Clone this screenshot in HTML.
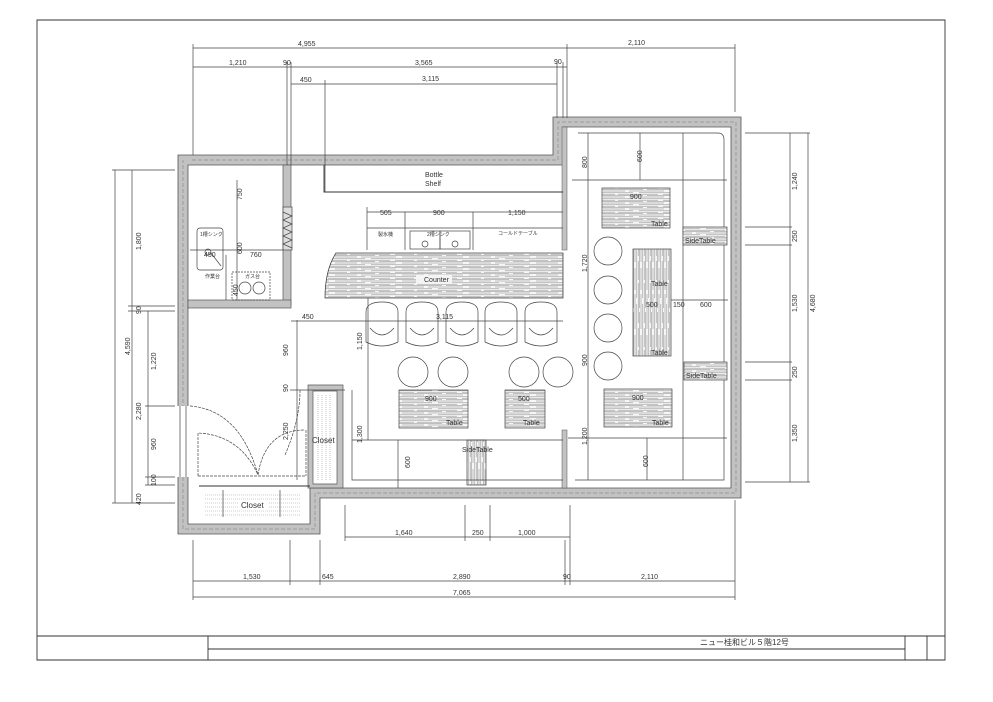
<!DOCTYPE html>
<html><head><meta charset="utf-8"><style>
html,body{margin:0;padding:0;background:#fff}
svg{display:block}
text{font-family:"Liberation Sans","Noto Sans CJK JP",sans-serif;fill:#333}
.d{font-size:7px}
.l{stroke:#444;stroke-width:0.7;fill:none}
.t{stroke:#333;stroke-width:0.9;fill:none}
</style></head><body>
<svg width="993" height="702" viewBox="0 0 993 702" xmlns="http://www.w3.org/2000/svg">
<defs>
<pattern id="wood" width="67" height="6" patternUnits="userSpaceOnUse">
<rect width="67" height="6" fill="#f6f6f6"/>
<path d="M0 0.8 H30 M36 0.8 H67 M0 2.2 H12 M15 2.2 H55 M60 2.2 H67 M0 3.6 H40 M44 3.6 H67 M0 5 H22 M26 5 H61" stroke="#888" stroke-width="0.5"/>
</pattern>
<pattern id="woodv" width="6" height="67" patternUnits="userSpaceOnUse">
<rect width="6" height="67" fill="#f6f6f6"/>
<path d="M0.8 0 V30 M0.8 36 V67 M2.2 0 V12 M2.2 15 V55 M2.2 60 V67 M3.6 0 V40 M3.6 44 V67 M5 0 V22 M5 26 V61" stroke="#888" stroke-width="0.5"/>
</pattern>
</defs>
<!-- frame -->
<path d="M37 20 H945 V660 H37 Z" class="t"/>
<path d="M37 636 H945 M208 636 V660 M208 649 H905 M905 636 V660 M927 636 V660" class="t"/>
<text x="700" y="645" font-size="8">ニュー桂和ビル５階12号</text>

<!-- walls -->
<path fill-rule="evenodd" fill="#c2c2c2" stroke="#555" stroke-width="0.8"
 d="M178 155 H553 V117 H741 V498 H320 V534 H178 Z
    M188 165 H563 V127 H731 V488 H310 V524 H188 Z"/>
<path d="M192 160 H558 V122 H736 V493 H315 V529 H183 V160" fill="none" stroke="#777" stroke-width="0.5" stroke-dasharray="4 2"/>
<rect x="176" y="406" width="14" height="71" fill="#fff"/>
<path d="M180 406 V477 M186 406 V477" class="l"/>
<!-- kitchen partition -->
<rect x="283" y="165" width="8" height="140" fill="#c2c2c2" stroke="#555" stroke-width="0.7"/>
<rect x="188" y="300" width="103" height="8" fill="#c2c2c2" stroke="#555" stroke-width="0.7"/>
<rect x="283" y="207" width="9" height="43" fill="#ddd" stroke="#444" stroke-width="0.7"/>
<path d="M283 212 l9 4 l-9 4 l9 4 l-9 4 l9 4 l-9 4 l9 4 l-9 4 l9 4" class="l"/>
<!-- right room partition stubs -->
<rect x="562" y="127" width="5" height="123" fill="#c2c2c2" stroke="#555" stroke-width="0.5"/>
<rect x="562" y="430" width="5" height="58" fill="#c2c2c2" stroke="#555" stroke-width="0.5"/>
<!-- closet right -->
<path fill-rule="evenodd" fill="#c2c2c2" stroke="#555" stroke-width="0.7" d="M308 385 H343 V488 H308 Z M313 391 H337 V484 H313 Z"/>
<path d="M318 395 V480 M322 395 V480 M326 395 V480 M330 395 V480" stroke="#888" stroke-width="0.5" stroke-dasharray="1 1"/>
<text x="312" y="443" font-size="8">Closet</text>
<!-- bottom closet -->
<path d="M199 486 H310" class="t"/>
<path d="M205 495 H300 M205 499 H300 M205 503 H300 M205 507 H300 M205 511 H300 M205 515 H300" stroke="#999" stroke-width="0.5" stroke-dasharray="1 1"/>
<path d="M223 490 V517 M280 490 V517" class="l"/>
<rect x="238" y="500" width="30" height="10" fill="#fff"/>
<text x="241" y="508" font-size="8">Closet</text>
<!-- doors -->
<path d="M190 406 Q240 410 258 475 M198 476 V433 Q240 435 258 475 M258 475 Q265 430 305 430 M300 390 Q300 420 285 455 M306 430 V476 M198 476 H306" class="l" stroke-dasharray="3 1"/>
<path d="M290 390 H345" class="l"/>

<!-- kitchen -->
<rect x="197" y="228" width="26" height="42" rx="3" class="l"/>
<circle cx="208" cy="252" r="3" class="l"/>
<path d="M211 253 L221 266" class="l"/>
<text x="200" y="236" font-size="5">1槽シンク</text>
<text x="204" y="257" class="d" font-size="6">450</text>
<path d="M190 250 H283 M237 180 V300 M226 255 V300" class="l"/>
<text x="205" y="278" font-size="5">作業台</text>
<rect x="232" y="272" width="38" height="28" class="l" stroke-dasharray="2 1"/>
<circle cx="245" cy="288" r="6" class="l"/><circle cx="259" cy="288" r="6" class="l"/>
<text x="245" y="278" font-size="5">ガス台</text>
<text x="250" y="257" class="d">760</text>
<text transform="translate(242 200) rotate(-90)" class="d">750</text>
<text transform="translate(242 254) rotate(-90)" class="d">600</text>
<text transform="translate(238 296) rotate(-90)" class="d">450</text>

<!-- bottle shelf -->
<path d="M324 165 V192 H563" class="t"/>
<text x="425" y="177" font-size="7">Bottle</text>
<text x="425" y="186" font-size="7">Shelf</text>
<!-- equipment -->
<path d="M367 228 H563 M367 207 V250 M405 212 V250 M473 212 V250 M367 212 H563" class="l"/>
<rect x="410" y="231" width="30" height="18" class="l"/><rect x="440" y="231" width="30" height="18" class="l"/>
<circle cx="425" cy="244" r="3" class="l"/><circle cx="455" cy="244" r="3" class="l"/>
<text x="378" y="236" font-size="5">製氷機</text>
<text x="427" y="236" font-size="5">2槽シンク</text>
<text x="498" y="235" font-size="5">コールドテーブル</text>
<text x="380" y="215" class="d">505</text><text x="433" y="215" class="d">900</text><text x="508" y="215" class="d">1,150</text>
<!-- counter -->
<path d="M336 253 H563 V298 H325 Q325 270 336 253 Z" fill="url(#wood)" stroke="#444" stroke-width="0.8"/>
<rect x="416" y="275" width="36" height="9" fill="#f4f4f4"/>
<text x="424" y="282" font-size="7">Counter</text>
<!-- stools -->
<g class="l">
<path d="M366 342 V312 Q366 302 382 302 Q398 302 398 312 V342 Q382 350 366 342 Z M370 328 Q382 342 394 328"/>
<path d="M406 342 V312 Q406 302 422 302 Q438 302 438 312 V342 Q422 350 406 342 Z M410 328 Q422 342 434 328"/>
<path d="M446 342 V312 Q446 302 462 302 Q478 302 478 312 V342 Q462 350 446 342 Z M450 328 Q462 342 474 328"/>
<path d="M485 342 V312 Q485 302 501 302 Q517 302 517 312 V342 Q501 350 485 342 Z M489 328 Q501 342 513 328"/>
<path d="M525 342 V312 Q525 302 541 302 Q557 302 557 312 V342 Q541 350 525 342 Z M529 328 Q541 342 553 328"/>
</g>
<path d="M291 321 H563" class="l"/>
<text x="302" y="319" class="d">450</text><text x="436" y="319" class="d">3,115</text>
<!-- round stools -->
<g class="l"><circle cx="413" cy="372" r="15"/><circle cx="453" cy="372" r="15"/><circle cx="524" cy="372" r="15"/><circle cx="558" cy="372" r="15"/>
<circle cx="608" cy="251" r="14"/><circle cx="608" cy="290" r="14"/><circle cx="608" cy="328" r="14"/><circle cx="608" cy="366" r="14"/></g>
<!-- tables -->
<rect x="399" y="390" width="69" height="38" fill="url(#wood)" stroke="#444" stroke-width="0.7"/>
<text x="425" y="401" class="d">900</text><text x="446" y="425" font-size="7">Table</text>
<rect x="505" y="390" width="40" height="38" fill="url(#wood)" stroke="#444" stroke-width="0.7"/>
<text x="518" y="401" class="d">500</text><text x="523" y="425" font-size="7">Table</text>
<rect x="467" y="440" width="19" height="45" fill="url(#woodv)" stroke="#444" stroke-width="0.7"/>
<text x="462" y="452" font-size="7">SideTable</text>
<path d="M352 390 V480 H563 M352 440 H563 M398 440 V488" class="l"/>
<text transform="translate(362 443) rotate(-90)" class="d">1,300</text>
<text transform="translate(410 468) rotate(-90)" class="d">600</text>
<text transform="translate(362 350) rotate(-90)" class="d">1,150</text>
<text transform="translate(288 356) rotate(-90)" class="d">960</text>
<text transform="translate(288 392) rotate(-90)" class="d">90</text>
<text transform="translate(288 440) rotate(-90)" class="d">2,250</text>
<path d="M368 298 V440 M297 320 V480" class="l"/>
<!-- right room -->
<path d="M578 133 H718 Q724 133 724 140 V480 H575 M572 180 H727 M568 438 H727 M588 133 V480 M683 133 V480 M640 133 V180 M647 438 V480 M671 300 H728" class="l"/>
<rect x="602" y="188" width="68" height="40" fill="url(#wood)" stroke="#444" stroke-width="0.7"/>
<text x="630" y="199" class="d">900</text><text x="651" y="226" font-size="7">Table</text>
<rect x="633" y="249" width="38" height="107" fill="url(#woodv)" stroke="#444" stroke-width="0.7"/>
<text x="651" y="286" font-size="7">Table</text><text x="651" y="355" font-size="7">Table</text>
<text x="646" y="307" class="d">500</text><text x="673" y="307" class="d">150</text><text x="700" y="307" class="d">600</text>
<rect x="604" y="389" width="68" height="38" fill="url(#wood)" stroke="#444" stroke-width="0.7"/>
<text x="632" y="400" class="d">900</text><text x="652" y="425" font-size="7">Table</text>
<rect x="683" y="227" width="44" height="18" fill="url(#wood)" stroke="#444" stroke-width="0.7"/>
<text x="685" y="243" font-size="7">SideTable</text>
<rect x="684" y="362" width="43" height="18" fill="url(#wood)" stroke="#444" stroke-width="0.7"/>
<text x="686" y="378" font-size="7">SideTable</text>
<text transform="translate(587 168) rotate(-90)" class="d">800</text>
<text transform="translate(642 162) rotate(-90)" class="d">600</text>
<text transform="translate(587 272) rotate(-90)" class="d">1,720</text>
<text transform="translate(587 366) rotate(-90)" class="d">900</text>
<text transform="translate(587 445) rotate(-90)" class="d">1,200</text>
<text transform="translate(648 467) rotate(-90)" class="d">600</text>

<!-- top dims -->
<g class="l">
<path d="M193 48 H735 M193 67 H567 M291 84 H557"/>
<path d="M193 44 V155 M287 62 V165 M291 62 V165 M325 80 V192 M557 62 V118 M563 62 V118 M567 44 V118 M735 44 V112"/>
</g>
<text x="298" y="46" class="d">4,955</text><text x="628" y="45" class="d">2,110</text>
<text x="229" y="65" class="d">1,210</text><text x="283" y="65" class="d">90</text><text x="415" y="65" class="d">3,565</text><text x="554" y="64" class="d">90</text>
<text x="300" y="82" class="d">450</text><text x="422" y="81" class="d">3,115</text>
<!-- bottom dims -->
<g class="l">
<path d="M345 537 H570 M193 581 H735 M193 597 H735"/>
<path d="M345 505 V541 M465 505 V541 M490 505 V541 M570 505 V585 M193 540 V600 M290 540 V585 M320 540 V585 M565 540 V585 M735 500 V600"/>
</g>
<text x="395" y="535" class="d">1,640</text><text x="472" y="535" class="d">250</text><text x="518" y="535" class="d">1,000</text>
<text x="243" y="579" class="d">1,530</text><text x="322" y="579" class="d">645</text><text x="453" y="579" class="d">2,890</text><text x="563" y="579" class="d">90</text><text x="641" y="579" class="d">2,110</text>
<text x="453" y="595" class="d">7,065</text>
<!-- right dims -->
<g class="l">
<path d="M790 133 V482 M808 133 V482"/>
<path d="M745 133 H810 M745 227 H792 M745 245 H792 M745 362 H792 M745 380 H792 M745 482 H810"/>
</g>
<text transform="translate(797 190) rotate(-90)" class="d">1,240</text>
<text transform="translate(797 242) rotate(-90)" class="d">250</text>
<text transform="translate(797 312) rotate(-90)" class="d">1,530</text>
<text transform="translate(797 378) rotate(-90)" class="d">250</text>
<text transform="translate(797 442) rotate(-90)" class="d">1,350</text>
<text transform="translate(815 312) rotate(-90)" class="d">4,680</text>
<!-- left dims -->
<g class="l">
<path d="M115 170 V503 M132 170 V503 M148 311 V485"/>
<path d="M112 170 H175 M128 306 H175 M128 311 H175 M145 406 H175 M145 477 H175 M145 485 H175 M112 503 H175"/>
</g>
<text transform="translate(130 355) rotate(-90)" class="d">4,590</text>
<text transform="translate(141 250) rotate(-90)" class="d">1,800</text>
<text transform="translate(141 314) rotate(-90)" class="d">90</text>
<text transform="translate(141 420) rotate(-90)" class="d">2,280</text>
<text transform="translate(141 505) rotate(-90)" class="d">420</text>
<text transform="translate(156 370) rotate(-90)" class="d">1,220</text>
<text transform="translate(156 450) rotate(-90)" class="d">960</text>
<text transform="translate(156 486) rotate(-90)" class="d">100</text>
</svg>
</body></html>
